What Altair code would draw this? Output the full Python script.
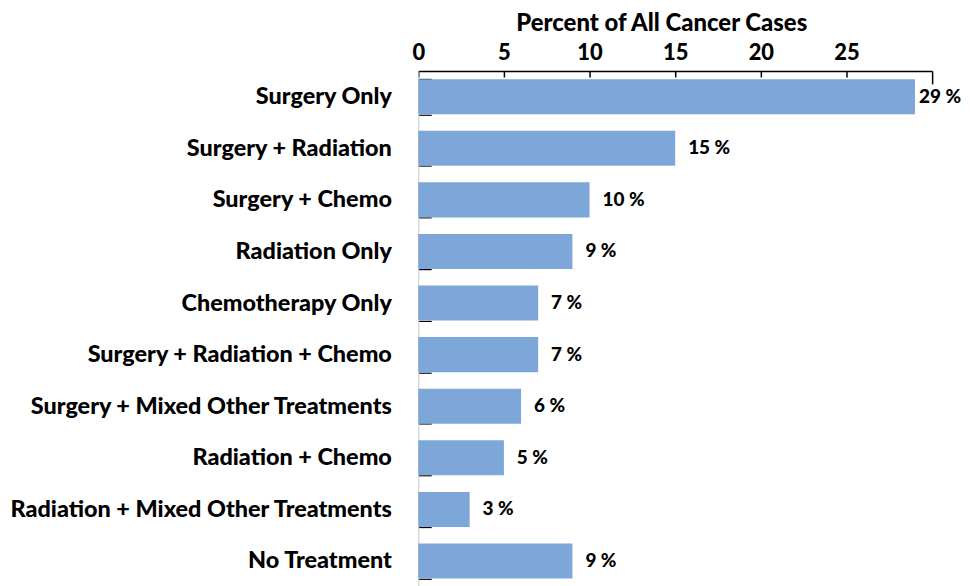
import altair as alt
import pandas as pd

categories = [
    "Surgery Only",
    "Surgery + Radiation",
    "Surgery + Chemo",
    "Radiation Only",
    "Chemotherapy Only",
    "Surgery + Radiation + Chemo",
    "Surgery + Mixed Other Treatments",
    "Radiation + Chemo",
    "Radiation + Mixed Other Treatments",
    "No Treatment",
]
values = [29, 15, 10, 9, 7, 7, 6, 5, 3, 9]
value_labels = ["29 %", "15 %", "10 %", "9 %", "7 %", "7 %", "6 %", "5 %", "3 %", "9 %"]
x_ticks = [0, 5, 10, 15, 20, 25, 30]

df = pd.DataFrame({"treatment": categories, "pct": values, "label": value_labels})

FONT = "Lato"
BAR = "#7da7d9"

y_enc = alt.Y(
    "treatment:N",
    sort=categories,
    title=None,
    scale=alt.Scale(paddingInner=0.32, paddingOuter=0.16),
    axis=alt.Axis(
        orient="left",
        labelFont=FONT,
        labelFontSize=23.5,
        labelFontWeight=900,
        labelColor="#000000",
        labelPadding=40,
        labelLimit=420,
        tickBand="extent",
        tickSize=alt.ExprRef(expr="-13"),
        tickColor="#000000",
        tickWidth=1.2,
        domainColor="#c8c8c8",
        domainWidth=1,
        minExtent=409,
        maxExtent=409,
    ),
)

x_enc = alt.X(
    "pct:Q",
    title="Percent of All Cancer Cases",
    scale=alt.Scale(domain=[0, 30], nice=False),
    axis=alt.Axis(
        orient="top",
        values=x_ticks,
        labelExpr="datum.value == 30 ? '' : datum.label",
        labelFlush=False,
        labelFont=FONT,
        labelFontSize=22,
        labelFontWeight=900,
        labelColor="#000000",
        labelPadding=12,
        tickSize={"condition": {"test": "datum.value == 30", "value": -13}, "value": -6},
        tickColor="#000000",
        tickWidth=1.5,
        domainColor="#000000",
        domainWidth=1.5,
        grid=False,
        titleFont=FONT,
        titleFontSize=24,
        titleFontWeight=900,
        titleColor="#000000",
        titlePadding=7,
        titleX=244,
    ),
)

bars = alt.Chart(df).mark_bar(color=BAR).encode(y=y_enc, x=x_enc)

text_main = alt.Chart(df).transform_filter("datum.pct < 25").mark_text(
    align="left", baseline="middle", dx=13, font=FONT, fontSize=19, fontWeight=900, color="#000000"
).encode(y=alt.Y("treatment:N", sort=categories), x=alt.X("pct:Q"), text="label:N")

text_top = alt.Chart(df).transform_filter("datum.pct >= 25").mark_text(
    align="left", baseline="middle", dx=4, font=FONT, fontSize=19, fontWeight=900, color="#000000"
).encode(y=alt.Y("treatment:N", sort=categories), x=alt.X("pct:Q"), text="label:N")

chart = (
    alt.layer(bars, text_main, text_top)
    .properties(width=516, height=518, padding={"left": 0, "top": 2, "right": 0, "bottom": 0})
    .configure_view(stroke=None)
)

chart.save("out.html", embed_options={"renderer": "svg", "actions": False})
